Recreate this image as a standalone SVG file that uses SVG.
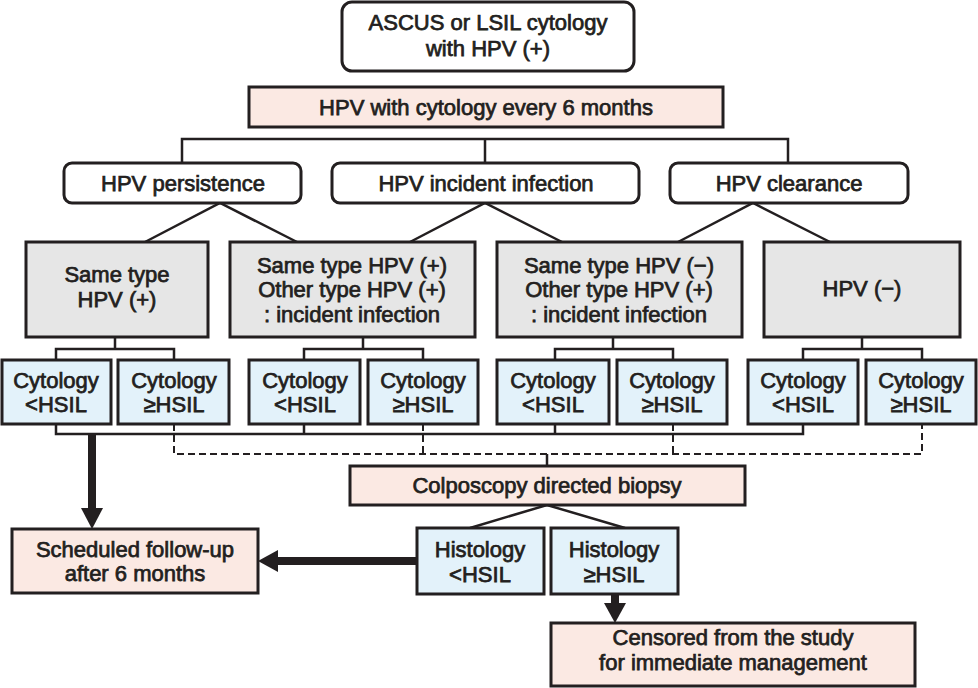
<svg xmlns="http://www.w3.org/2000/svg" width="978" height="688" viewBox="0 0 978 688">
<style>
  .t { font-family: "Liberation Sans", Arial, Helvetica, sans-serif; font-size: 22px; fill: #231f20; stroke: #231f20; stroke-width: 0.75; text-anchor: middle; }
  .box { stroke: #231f20; stroke-width: 3; }
  .w { fill: #ffffff; }
  .pink { fill: #fbe9e3; }
  .gray { fill: #e6e6e6; }
  .blue { fill: #e3f2fa; }
  .ln { fill: none; stroke: #231f20; stroke-width: 2.5; }
  .dash { fill: none; stroke: #231f20; stroke-width: 2; stroke-dasharray: 7 4; }
  .thick { fill: none; stroke: #231f20; stroke-width: 8; }
  .head { fill: #231f20; }
</style>
<rect width="978" height="688" fill="#ffffff"/>

<g id="connectors">
  <path class="ln" d="M182,163 V139 H788 V163 M485,139 V163"/>
  <path class="ln" d="M145,242 L220,203 L297,242"/>
  <path class="ln" d="M410,242 L485,203 L562,242"/>
  <path class="ln" d="M678,242 L753,203 L830,242"/>
  <path class="ln" d="M115,337 V349 M56,360 V349 H174 V360"/>
  <path class="ln" d="M363,337 V349 M304,360 V349 H423 V360"/>
  <path class="ln" d="M613,337 V349 M555,360 V349 H673 V360"/>
  <path class="ln" d="M862,337 V349 M803,360 V349 H922 V360"/>
  <path class="ln" d="M56,424 V434 H803 V424 M304,424 V434 M555,424 V434"/>
  <path class="dash" d="M174,424 V454 H922 V424 M423,424 V454 M673,424 V454"/>
  <path class="ln" d="M547,454 V466"/>
  <path class="ln" d="M470,528 L547,505 L625,528"/>
  <path class="thick" d="M92,434 V510"/>
  <polygon class="head" points="81,508 103,508 92,529"/>
  <path class="thick" d="M417,561 H276"/>
  <polygon class="head" points="278,550 278,572 258,561"/>
  <path class="thick" d="M615,594 V605"/>
  <polygon class="head" points="604,603 626,603 615,623"/>
</g>

<g id="start">
  <rect class="box w" x="342" y="2" width="292" height="69" rx="10"/>
  <text class="t" x="488" y="30">ASCUS or LSIL cytology</text>
  <text class="t" x="488" y="56">with HPV (+)</text>
</g>
<g id="every6">
  <rect class="box pink" x="249" y="87" width="474" height="40"/>
  <text class="t" x="486" y="115">HPV with cytology every 6 months</text>
</g>

<g id="persistence">
  <rect class="box w" x="64" y="163" width="237" height="40" rx="8"/>
  <text class="t" x="183" y="191">HPV persistence</text>
</g>
<g id="incident">
  <rect class="box w" x="332" y="163" width="307" height="40" rx="8"/>
  <text class="t" x="486" y="191">HPV incident infection</text>
</g>
<g id="clearance">
  <rect class="box w" x="670" y="163" width="238" height="40" rx="8"/>
  <text class="t" x="789" y="191">HPV clearance</text>
</g>

<g id="g1">
  <rect class="box gray" x="26" y="242" width="182" height="95"/>
  <text class="t" x="117" y="282">Same type</text>
  <text class="t" x="117" y="307">HPV (+)</text>
</g>
<g id="g2">
  <rect class="box gray" x="230" y="242" width="245" height="95"/>
  <text class="t" x="352" y="273">Same type HPV (+)</text>
  <text class="t" x="352" y="297">Other type HPV (+)</text>
  <text class="t" x="352" y="322">: incident infection</text>
</g>
<g id="g3">
  <rect class="box gray" x="497" y="242" width="245" height="95"/>
  <text class="t" x="619" y="273">Same type HPV (−)</text>
  <text class="t" x="619" y="297">Other type HPV (+)</text>
  <text class="t" x="619" y="322">: incident infection</text>
</g>
<g id="g4">
  <rect class="box gray" x="764" y="242" width="196" height="95"/>
  <text class="t" x="862" y="296">HPV (−)</text>
</g>

<g id="c1">
  <rect class="box blue" x="2" y="360" width="109" height="64"/>
  <text class="t" x="56" y="388">Cytology</text>
  <text class="t" x="56" y="412">&lt;HSIL</text>
</g>
<g id="c2">
  <rect class="box blue" x="118" y="360" width="111" height="64"/>
  <text class="t" x="174" y="388">Cytology</text>
  <text class="t" x="174" y="412">≥HSIL</text>
</g>
<g id="c3">
  <rect class="box blue" x="249" y="360" width="111" height="64"/>
  <text class="t" x="305" y="388">Cytology</text>
  <text class="t" x="305" y="412">&lt;HSIL</text>
</g>
<g id="c4">
  <rect class="box blue" x="368" y="360" width="110" height="64"/>
  <text class="t" x="423" y="388">Cytology</text>
  <text class="t" x="423" y="412">≥HSIL</text>
</g>
<g id="c5">
  <rect class="box blue" x="497" y="360" width="112" height="64"/>
  <text class="t" x="553" y="388">Cytology</text>
  <text class="t" x="553" y="412">&lt;HSIL</text>
</g>
<g id="c6">
  <rect class="box blue" x="617" y="360" width="110" height="64"/>
  <text class="t" x="672" y="388">Cytology</text>
  <text class="t" x="672" y="412">≥HSIL</text>
</g>
<g id="c7">
  <rect class="box blue" x="748" y="360" width="110" height="64"/>
  <text class="t" x="803" y="388">Cytology</text>
  <text class="t" x="803" y="412">&lt;HSIL</text>
</g>
<g id="c8">
  <rect class="box blue" x="866" y="360" width="110" height="64"/>
  <text class="t" x="921" y="388">Cytology</text>
  <text class="t" x="921" y="412">≥HSIL</text>
</g>

<g id="colposcopy">
  <rect class="box pink" x="350" y="466" width="395" height="39"/>
  <text class="t" x="547" y="493">Colposcopy directed biopsy</text>
</g>
<g id="h1">
  <rect class="box blue" x="417" y="528" width="127" height="66"/>
  <text class="t" x="480" y="557">Histology</text>
  <text class="t" x="480" y="582">&lt;HSIL</text>
</g>
<g id="h2">
  <rect class="box blue" x="551" y="528" width="127" height="66"/>
  <text class="t" x="614" y="557">Histology</text>
  <text class="t" x="614" y="582">≥HSIL</text>
</g>
<g id="followup">
  <rect class="box pink" x="12" y="529" width="246" height="64"/>
  <text class="t" x="135" y="557">Scheduled follow-up</text>
  <text class="t" x="135" y="581">after 6 months</text>
</g>
<g id="censored">
  <rect class="box pink" x="551" y="623" width="364" height="63"/>
  <text class="t" x="733" y="645">Censored from the study</text>
  <text class="t" x="733" y="670">for immediate management</text>
</g>
</svg>
